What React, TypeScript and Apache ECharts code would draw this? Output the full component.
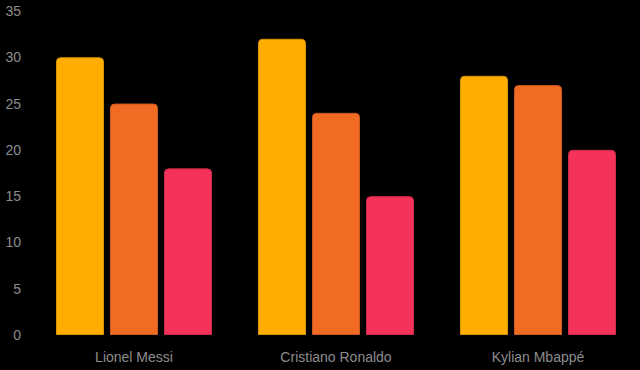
import React, { useEffect, useRef } from "react";
import * as echarts from "echarts";

const categories = ["Lionel Messi", "Cristiano Ronaldo", "Kylian Mbappé"];
const seriesA = [30, 32, 28];
const seriesB = [25, 24, 27];
const seriesC = [18, 15, 20];
const colors = ["#FFAD00", "#F26B22", "#F5325A"];
const borders = ["#D99300", "#CC5A1D", "#CF2A4C"];

export default function App() {
  const ref = useRef<HTMLDivElement>(null);
  useEffect(() => {
    document.body.style.margin = "0";
    document.body.style.background = "#000";
    const chart = echarts.init(ref.current!, null, { renderer: "svg" });
    const data = [seriesA, seriesB, seriesC];
    chart.setOption({
      animation: false,
      backgroundColor: "#000",
      grid: { left: 33, right: 1, top: 11, bottom: 35 },
      xAxis: {
        type: "category",
        data: categories,
        axisLine: { show: false },
        axisTick: { show: false },
        axisLabel: { color: "#8c8c8c", fontSize: 14, margin: 15, fontFamily: "Liberation Sans, Arial, sans-serif" },
      },
      yAxis: {
        type: "value",
        min: 0,
        max: 35,
        interval: 5,
        splitLine: { show: false },
        axisLine: { show: false },
        axisTick: { show: false },
        axisLabel: { color: "#8c8c8c", fontSize: 14, margin: 12, fontFamily: "Liberation Sans, Arial, sans-serif" },
      },
      series: data.map((d, i) => ({
        type: "bar",
        data: d,
        barWidth: 48,
        barGap: "12.5%",
        itemStyle: {
          color: colors[i],
          borderColor: borders[i],
          borderWidth: 1,
          borderRadius: [4, 4, 0, 0],
        },
      })),
    });
    return () => chart.dispose();
  }, []);
  return <div ref={ref} style={{ width: 640, height: 370 }} />;
}
